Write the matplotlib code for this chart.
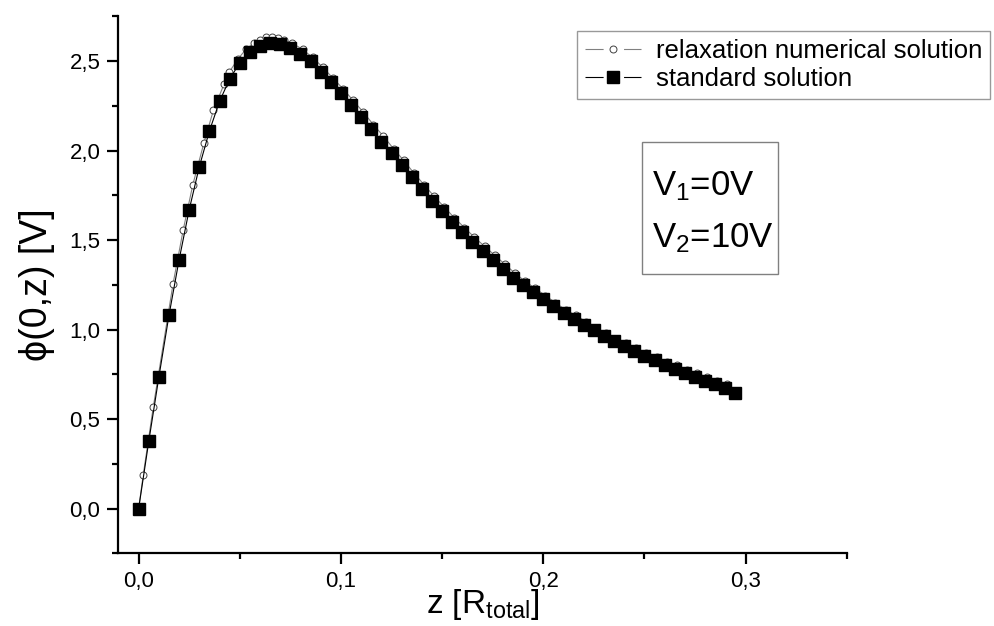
import matplotlib
matplotlib.use("Agg")
import matplotlib.pyplot as plt
from matplotlib import ticker
from matplotlib.patches import Rectangle

# standard solution (filled squares)
std_z = [0.000, 0.005, 0.010, 0.015, 0.020, 0.025, 0.030, 0.035, 0.040, 0.045,
         0.050, 0.055, 0.060, 0.065, 0.070, 0.075, 0.080, 0.085, 0.090, 0.095,
         0.100, 0.105, 0.110, 0.115, 0.120, 0.125, 0.130, 0.135, 0.140, 0.145,
         0.150, 0.155, 0.160, 0.165, 0.170, 0.175, 0.180, 0.185, 0.190, 0.195,
         0.200, 0.205, 0.210, 0.215, 0.220, 0.225, 0.230, 0.235, 0.240, 0.245,
         0.250, 0.255, 0.260, 0.265, 0.270, 0.275, 0.280, 0.285, 0.290, 0.295]
std_phi = [0.00, 0.375, 0.735, 1.08, 1.39, 1.67, 1.91, 2.11, 2.275, 2.40,
           2.49, 2.55, 2.585, 2.60, 2.595, 2.575, 2.54, 2.50, 2.44, 2.385,
           2.32, 2.255, 2.19, 2.12, 2.05, 1.985, 1.92, 1.85, 1.785, 1.72,
           1.66, 1.60, 1.545, 1.49, 1.44, 1.39, 1.34, 1.29, 1.25, 1.21,
           1.17, 1.13, 1.095, 1.06, 1.025, 0.995, 0.965, 0.935, 0.91, 0.88,
           0.855, 0.83, 0.805, 0.78, 0.76, 0.735, 0.715, 0.695, 0.675, 0.645]

# relaxation numerical solution (open circles)
relax_z = [0.000, 0.0023, 0.0072, 0.017, 0.022, 0.0268, 0.0323, 0.037, 0.0422, 0.0447,
           0.049, 0.053, 0.057, 0.060, 0.063, 0.066, 0.069, 0.072, 0.076, 0.081,
           0.086, 0.091, 0.096, 0.101, 0.106, 0.111, 0.116, 0.121, 0.126, 0.131,
           0.136, 0.141, 0.146, 0.151, 0.156, 0.161, 0.166, 0.171, 0.176, 0.181,
           0.186, 0.191, 0.196, 0.201, 0.206, 0.211, 0.216, 0.221, 0.226, 0.231,
           0.236, 0.241, 0.246, 0.251, 0.256, 0.261, 0.266, 0.271, 0.276, 0.281,
           0.286, 0.291]
relax_phi = [0.00, 0.19, 0.565, 1.255, 1.555, 1.81, 2.044, 2.227, 2.37, 2.437,
             2.51, 2.565, 2.60, 2.62, 2.632, 2.635, 2.63, 2.62, 2.60, 2.565,
             2.52, 2.465, 2.405, 2.345, 2.28, 2.215, 2.145, 2.08, 2.01, 1.945,
             1.875, 1.81, 1.745, 1.685, 1.625, 1.57, 1.515, 1.465, 1.415, 1.365,
             1.315, 1.27, 1.23, 1.19, 1.15, 1.11, 1.08, 1.045, 1.01, 0.98,
             0.95, 0.925, 0.895, 0.87, 0.845, 0.82, 0.80, 0.775, 0.755, 0.735,
             0.715, 0.695]

voltages = ['V$_1$=0V', 'V$_2$=10V']

plt.rcParams['font.family'] = ['Liberation Sans', 'DejaVu Sans']
plt.rcParams['mathtext.fontset'] = 'custom'
plt.rcParams['mathtext.rm'] = 'Liberation Sans'
plt.rcParams['mathtext.it'] = 'Liberation Sans'

fig = plt.figure(figsize=(9.95, 6.26), dpi=100)
ax = fig.add_axes([0.119, 0.116, 0.732, 0.858])

ax.plot(relax_z, relax_phi, color='#808080', lw=0.8, marker='o', ms=5,
        mfc='white', mec='#404040', mew=0.7, label='relaxation numerical solution', zorder=2)
ax.plot(std_z, std_phi, color='black', lw=0.8, marker='s', ms=8.6,
        mfc='black', mec='black', label='standard solution', zorder=3)

ax.set_xlim(-0.01, 0.35)
ax.set_ylim(-0.25, 2.75)

for s in ['top', 'right']:
    ax.spines[s].set_visible(False)
for s in ['left', 'bottom']:
    ax.spines[s].set_linewidth(1.6)

comma = ticker.FuncFormatter(lambda v, p: f"{v:.1f}".replace('.', ','))
ax.xaxis.set_major_locator(ticker.MultipleLocator(0.1))
ax.xaxis.set_minor_locator(ticker.MultipleLocator(0.05))
ax.yaxis.set_major_locator(ticker.MultipleLocator(0.5))
ax.yaxis.set_minor_locator(ticker.MultipleLocator(0.25))
ax.xaxis.set_major_formatter(comma)
ax.yaxis.set_major_formatter(comma)
ax.tick_params(which='major', direction='out', length=8, width=1.6, labelsize=16, pad=5)
ax.tick_params(which='minor', direction='out', length=4.5, width=1.6)

ax.set_xlabel(r'z [R$_{\mathrm{total}}$]', fontsize=24, labelpad=-4)
ax.set_ylabel('\u03d5(0,z) [V]', fontsize=27, labelpad=10)

leg = ax.legend(loc='upper left', bbox_to_anchor=(0.63, 0.972), fontsize=18.5,
                frameon=True, fancybox=False, edgecolor='#808080', handlelength=2.2,
                handletextpad=0.55, borderpad=0.3, labelspacing=0.15, borderaxespad=0)
leg.get_frame().set_linewidth(1.0)
# line segments with a gap around the marker (dashes are scaled by lw=0.8)
for h in leg.get_lines():
    h.set_dashes([16.3, 18.4])

# annotation box with the electrode voltages
ax.add_patch(Rectangle((0.719, 0.520), 0.187, 0.245, transform=ax.transAxes,
                       fc='white', ec='#808080', lw=1.0, zorder=4))
for txt, yb in zip(voltages, [0.667, 0.570]):
    ax.text(0.733, yb, txt, transform=ax.transAxes, fontsize=25,
            va='baseline', ha='left', zorder=5)

plt.savefig('out.png', dpi=100)
